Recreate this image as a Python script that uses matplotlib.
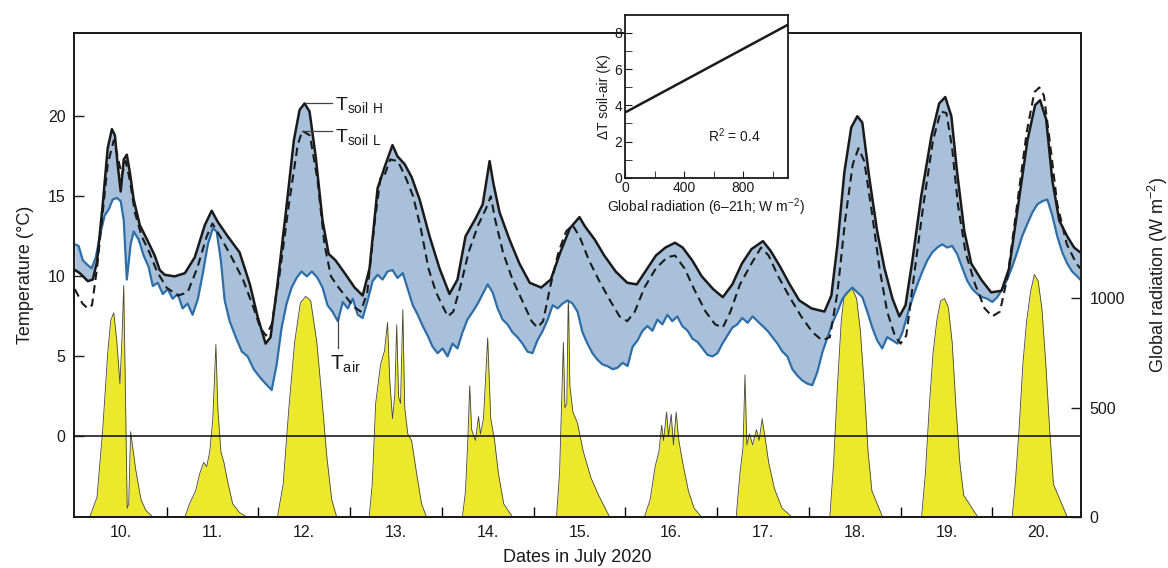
import numpy as np
import matplotlib
matplotlib.use("Agg")
import matplotlib.pyplot as plt
from matplotlib.ticker import FixedLocator, NullFormatter, FixedFormatter

plt.rcParams['font.family'] = ['Liberation Sans', 'DejaVu Sans']
plt.rcParams['mathtext.fontset'] = 'custom'
plt.rcParams['mathtext.rm'] = 'Liberation Sans'

# ---------------- data (hours since 10 July 2020 00:00) ----------------
soilH_t = [0, 1.3, 3.4, 4.7, 5.8, 7.3, 8.6, 9.7, 10.5, 11.2, 12.0, 12.8, 13.6, 14.4, 15.4, 17, 19.1, 20.9, 22.2, 23.5,
           26.1, 28.8, 31.4, 34, 35.8, 37.4, 40, 43.1, 45.8, 47.8,
           49.9, 51.2, 53, 55.2, 57.3, 58.8, 60.1, 61.4, 63, 64.8, 66.4, 68.2, 70.6,
           73.2, 75.3, 77.1, 79.2, 81, 83.1, 84.4, 86.3, 88.1, 90.2, 92.8, 95.4,
           98, 100.1, 102.2, 104.8, 106.7, 108.5, 109.5, 111.1, 113.7, 116.3, 119,
           122, 124.5, 127, 129.5, 132, 133.5, 136, 138.5, 141.5,
           144.5, 147, 149.5, 152, 154.5, 157, 159, 161.5, 164,
           167, 169.5, 172, 174.5, 177, 180, 182, 184.5, 187, 189.5,
           192.7, 196.1, 197.9, 199.5, 201.3, 203.1, 204.7, 206, 207.8, 209.9, 211.8, 213.9,
           215.7, 217.3, 219.1, 221.4, 224.1, 226.1, 227.7, 229.3, 230.8, 232.7, 234.5, 237.1,
           239.7, 242.4, 244.4, 246.5, 249.2, 251.2, 252.5, 254.1, 255.7, 257.5, 259.6, 261.4, 263]
soilH_v = [10.4, 10.2, 9.7, 9.8, 10.9, 14.5, 18, 19.2, 18.8, 17.0, 15.3, 17.3, 17.6, 16.5, 14.8, 13.2, 12.2, 11.3, 10.4, 10.1,
           10.0, 10.2, 11.2, 13.2, 14.1, 13.4, 12.5, 11.5, 9.5, 7.5,
           5.8, 6.2, 9.5, 14, 18.5, 20.4, 20.8, 20.3, 17.5, 13.5, 11.4, 11.0, 10.2,
           9.3, 8.8, 10.5, 15.5, 16.8, 18.2, 17.5, 17.0, 16.2, 14.8, 12.5, 10.5,
           8.9, 9.8, 12.5, 13.6, 14.5, 17.2, 15.8, 14.0, 12.3, 10.8, 9.6,
           9.3, 9.8, 11.5, 13.0, 13.7, 13.1, 12.3, 11.3, 10.3,
           9.6, 9.5, 10.4, 11.3, 11.8, 12.1, 11.8, 11.0, 10.0,
           9.2, 8.7, 9.5, 10.8, 11.7, 12.2, 11.6, 10.6, 9.5, 8.5,
           8.0, 7.8, 8.8, 12, 16.5, 19.3, 20.0, 19.6, 16.2, 12.8, 10.5, 8.6,
           7.5, 8.2, 11, 15, 18.8, 20.8, 21.2, 20.0, 16.5, 12.8, 10.8, 9.8,
           9.0, 9.1, 10.5, 14, 18.5, 20.7, 21.0, 19.8, 16, 13.5, 12.5, 11.8, 11.5]

soilL_t = [0, 2, 3.4, 4.5, 5.8, 7.3, 8.6, 10.2, 11.2, 12.3, 13.3, 14.4, 15.7, 17.5, 19.5, 21.5,
           24, 27, 29.5, 32, 34.5, 36, 38, 41, 44, 46.5, 48.5,
           50, 51.5, 53.5, 56, 58.3, 59.5, 61.5, 63.5, 65.3, 67, 69, 71,
           73, 74.8, 76.5, 78.5, 80, 81, 82.5, 84.5, 86.5, 88.5, 90.5, 92.5, 94.5,
           96.5, 97.6, 99, 101, 103, 105.5, 107.5, 108.8, 110, 112, 114.5, 117, 119.5,
           121, 122.5, 124.5, 126.5, 128.5, 130.2, 132, 134.5, 137, 140, 142.5,
           144.5, 146.5, 149, 152, 155, 157, 159.5, 162, 165, 167.5,
           169.5, 171.5, 174, 177, 179.5, 181.5, 184, 187, 190,
           193, 195.5, 197.5, 199.5, 201.5, 203.5, 205, 206.5, 208.5, 210.5, 212.5, 214.5,
           216, 217.5, 219.5, 222, 224.5, 226.5, 228, 229.5, 231, 233, 235.5, 238,
           240, 242, 244, 246.5, 249, 251, 252.3, 253.5, 255, 257, 259.5, 262, 263]
soilL_v = [9.2, 8.3, 8.0, 8.2, 10.5, 14, 17, 18.5, 17.5, 16.3, 17.2, 16, 14, 12.5, 11.5, 10.3,
           9.3, 8.8, 9.0, 10.5, 12.5, 13.3, 12.5, 11.2, 9.8, 8.2, 6.8,
           6.3, 7.0, 10, 14.5, 18.2, 19.1, 18.8, 16, 12, 10, 9.3, 8.7,
           8.1, 7.8, 9, 13.5, 16.2, 16.3, 17.3, 17.2, 16.2, 15, 13, 10.5, 9,
           8, 7.5, 7.8, 9.5, 11.5, 13.2, 14.2, 15.0, 13.5, 11.5, 9.8, 8.5, 7.2,
           6.8, 7.2, 9.5, 11.5, 12.8, 13.2, 12.5, 11, 9.8, 8.5, 7.5,
           7.2, 7.8, 9.3, 10.5, 11.2, 11.3, 10.5, 9.2, 7.8, 7.0,
           6.8, 7.8, 9.5, 10.8, 11.8, 11.3, 10, 8.7, 7.5,
           6.5, 6.0, 6.2, 9, 13.5, 17, 18.0, 17.2, 14, 10.5, 7.8, 6.3,
           5.8, 6.3, 10, 14.5, 18.5, 20.3, 20.2, 18, 14.5, 11.5, 9.5, 8.0,
           7.5, 7.8, 10, 14.5, 19, 21.5, 21.8, 21.3, 18.5, 14.5, 12, 10.8, 10.5]

air_t = [0, 1, 2.1, 3.4, 4.4, 5.5, 6.8, 7.8, 8.9, 9.9, 11, 12, 12.8, 13.6, 14.6, 15.4, 16.7, 18, 19.3, 20.4, 21.7, 23,
         24.3, 25.6, 26.9, 28.2, 29.5, 30.8, 32.2, 33.5, 34.8, 36.1, 37.1, 38.2, 39.2, 40.5, 42.1, 43.7, 45.2, 46.8,
         48.4, 49.9, 51.5, 52.8, 54.1, 55.4, 56.7, 58, 59.3, 60.7, 62, 63.5, 64.8, 66.1, 67.4, 68.8, 70.1, 71.4,
         72.7, 74, 75.3, 76.6, 77.9, 79.2, 80.5, 81.8, 83.1, 84.4, 85.8, 87.1, 88.4, 89.7, 91, 92.3, 93.6, 94.9,
         96.2, 97.5, 98.8, 100.1, 101.4, 102.7, 104.1, 105.4, 106.7, 108, 109.3, 110.6, 111.9, 113.2, 114.5, 115.8,
         117.1, 118.4, 119.7, 121, 122.4, 123.7, 125, 126.3, 127.6, 128.9, 130.2, 131.5, 132.8, 134.1, 135.4,
         136.7, 138, 139.3, 140.7, 142, 143.3, 144.6, 145.9, 147.2, 148.5, 149.8, 151.1, 152.4, 153.7, 155, 156.3,
         157.6, 158.9, 160.3, 161.6, 162.9, 164.2, 165.5, 166.8, 168.1, 169.4, 170.7, 172, 173.3, 174.6, 176,
         177.3, 178.6, 179.9, 181.2, 182.5, 183.8, 185.1, 186.4, 187.7, 189, 190.3, 191.6, 192.9, 194.2, 195.6,
         196.9, 198.2, 199.5, 200.8, 202.1, 203.4, 204.7, 206, 207.3, 208.6, 209.9, 211.2, 212.5, 213.9, 215.2,
         216.5, 217.8, 219.1, 220.4, 221.7, 223, 224.3, 225.6, 226.9, 228.2, 229.5, 230.8, 232.2, 233.5, 234.8,
         236.1, 237.4, 238.7, 240, 241.3, 242.6, 243.9, 245.2, 246.5, 247.8, 249.2, 250.5, 251.8, 253.1, 254.4,
         255.7, 257, 258.3, 259.6, 260.9, 262.2, 263]
air_v = [12.0, 11.9, 11.0, 10.7, 10.5, 11.2, 12.8, 13.8, 14.2, 14.8, 14.9, 14.7, 13.5, 9.8, 12.0, 12.8, 12.3, 11.3, 10.6, 9.4, 9.6, 8.9,
         9.2, 8.6, 8.9, 8.0, 8.3, 7.6, 8.6, 10.2, 12.0, 13.0, 12.8, 11.0, 8.5, 7.2, 6.2, 5.3, 5.0, 4.2,
         3.7, 3.3, 2.9, 4.5, 6.8, 8.3, 9.3, 9.9, 10.3, 10.0, 10.3, 9.9, 9.3, 8.2, 7.8, 7.2, 8.4, 8.0,
         8.6, 7.6, 7.4, 8.5, 9.7, 10.1, 9.8, 10.3, 10.4, 9.9, 10.2, 9.2, 8.2, 7.6, 6.9, 6.3, 5.6, 5.2,
         5.5, 5.0, 5.8, 5.5, 6.5, 7.3, 7.8, 8.3, 8.9, 9.5, 9.0, 8.0, 7.3, 7.0, 6.5, 6.2,
         5.8, 5.3, 5.2, 6.0, 6.6, 7.3, 8.2, 8.0, 8.3, 8.5, 8.3, 7.8, 6.5, 5.8, 5.2,
         4.8, 4.5, 4.4, 4.2, 4.3, 4.6, 4.4, 5.6, 6.0, 6.6, 6.9, 6.6, 7.3, 7.0, 7.6, 7.2,
         7.5, 6.9, 6.6, 6.1, 5.9, 5.5, 5.1, 5.0, 5.2, 5.8, 6.3, 6.8, 7.0, 7.4, 7.1,
         7.5, 7.2, 6.9, 6.6, 6.2, 5.8, 5.3, 5.0, 4.2, 3.8, 3.5, 3.3, 3.2, 4.0, 5.3,
         6.2, 7.1, 7.8, 8.6, 9.0, 9.3, 9.0, 8.7, 7.8, 6.8, 6.0, 5.5, 6.2, 6.0, 5.8,
         6.5, 7.6, 8.6, 9.5, 10.3, 11.0, 11.5, 11.8, 12.0, 11.8, 11.9, 11.4, 10.5, 9.7, 9.2,
         8.9, 8.7, 8.6, 8.4, 8.7, 9.2, 9.8, 10.6, 11.5, 12.5, 13.3, 14.0, 14.5, 14.7, 14.8,
         13.8, 12.5, 11.5, 10.8, 10.3, 10.0, 9.8]

rad_t = [0, 3.9, 5.8, 7.3, 8.6, 9.4, 10.2, 11, 11.8, 12.3, 12.8, 13.3, 13.7, 14.1, 14.6, 15.9, 17.3, 18.6, 20.4,
         28.8, 30, 31.6, 32.7, 33.7, 34.5, 35.3, 36.1, 36.9, 37.4, 38.2, 39, 40, 41.3, 43.1, 45,
         53, 54.5, 56, 57.5, 59, 60.4, 61.7, 63.3, 64.6, 65.9, 67.2, 68.5,
         77, 77.8, 78.7, 80, 81, 81.8, 82.4, 83.1, 83.7, 84.2, 84.7, 85.2, 85.8, 86.3, 87.1, 88.1, 89.4, 90.7, 92,
         101.4, 102.2, 102.8, 103.3, 103.8, 104.8, 105.6, 106.1, 106.9, 108, 108.8, 109.8, 110.8, 112.2, 114.5,
         126, 126.8, 127.4, 127.8, 128.2, 128.7, 129.1, 129.5, 130.3, 131.5, 133, 135, 137, 139.9,
         149, 150.5, 151.8, 152.8, 153.5, 154, 154.8, 155.3, 156, 156.6, 157.3, 158, 159, 160.5, 162, 164,
         173, 174, 174.8, 175.3, 175.8, 176.5, 177.3, 178.3, 179, 179.8, 180.5, 181.5, 183, 185, 187.6,
         197.5, 198.5, 199.5, 200.5, 201.5, 202.5, 203.5, 204.5, 205.5, 206.5, 207.5, 208.5, 211.3,
         221.5, 222.5, 223.5, 224.5, 225.5, 226.5, 227.5, 228.5, 229.5, 230.5, 231.5, 232.5, 236.2,
         245.2, 246, 247, 248, 249, 250, 251, 252, 253, 254, 255, 256, 259.6, 263]
rad_v = [0, 0, 90, 400, 750, 900, 935, 800, 610, 800, 1060, 500, 40, 60, 390, 220, 80, 30, 0,
         0, 60, 120, 200, 250, 230, 300, 450, 790, 500, 300, 250, 160, 60, 20, 0,
         0, 150, 500, 800, 980, 1010, 990, 800, 550, 280, 80, 0,
         0, 150, 520, 700, 760, 890, 620, 450, 560, 880, 550, 520, 950, 500, 380, 350, 200, 60, 0,
         0, 120, 350, 600, 400, 350, 460, 380, 450, 820, 450, 350, 200, 60, 0,
         0, 200, 550, 800, 500, 520, 1040, 600, 480, 430, 300, 180, 100, 0,
         0, 80, 230, 300, 420, 350, 480, 370, 470, 330, 480, 350, 250, 120, 40, 0,
         0, 200, 320, 650, 330, 380, 330, 400, 350, 450, 370, 250, 130, 40, 0,
         0, 250, 600, 900, 1050, 1060, 1040, 1000, 850, 600, 300, 120, 0,
         0, 200, 500, 750, 900, 990, 1000, 960, 800, 500, 250, 100, 0,
         0, 150, 400, 700, 900, 1030, 1110, 1080, 950, 700, 400, 150, 0, 0]

day_labels = ['10.', '11.', '12.', '13.', '14.', '15.', '16.', '17.', '18.', '19.', '20.']
temp_ticks = [0, 5, 10, 15, 20]
rad_ticks = [0, 500, 1000]

inset_x = [0, 1100]
inset_y = [3.6, 8.45]

# ---------------- figure ----------------
fig = plt.figure(figsize=(11.68, 5.68), dpi=100)
ax = fig.add_axes([0.0634, 0.0898, 0.8621, 0.8521])
ax2 = ax.twinx()
ax.set_zorder(ax2.get_zorder() + 1)
ax.patch.set_visible(False)

ink = '#1a1a1a'
blue = '#2e6ea8'
fillc = '#a8c0d9'
yellow = '#ece92c'

# radiation (right axis)
ax2.fill_between(rad_t, 0, rad_v, color=yellow, lw=0)
ax2.plot(rad_t, rad_v, color='#444444', lw=0.6)
ax2.set_ylim(0, 2215)
ax2.yaxis.set_major_locator(FixedLocator(rad_ticks))
ax2.tick_params(axis='y', direction='in', length=7, width=1, labelsize=11.5, colors=ink, pad=6)
ax2.set_ylabel('Global radiation (W m$^{-2}$)', fontsize=13, color=ink, labelpad=15)

# temperatures
t_grid = np.union1d(soilH_t, air_t)
h_i = np.interp(t_grid, soilH_t, soilH_v)
a_i = np.interp(t_grid, air_t, air_v)
ax.fill_between(t_grid, a_i, h_i, color=fillc, lw=0)
ax.plot(air_t, air_v, color=blue, lw=1.6)
ax.plot(soilL_t, soilL_v, color=ink, lw=1.5, ls=(0, (4, 2.5)))
ax.plot(soilH_t, soilH_v, color=ink, lw=1.8)
ax.axhline(0, color=ink, lw=1.2)

ax.set_xlim(-0.2, 263.2)
ax.set_ylim(-5.03, 25.2)
ax.yaxis.set_major_locator(FixedLocator(temp_ticks))
ax.xaxis.set_major_locator(FixedLocator([24 * i for i in range(1, 11)]))
ax.xaxis.set_major_formatter(NullFormatter())
ax.xaxis.set_minor_locator(FixedLocator([24 * i + 12 for i in range(11)]))
ax.xaxis.set_minor_formatter(FixedFormatter(day_labels))
ax.tick_params(axis='x', which='major', direction='in', length=7, width=1)
ax.tick_params(axis='x', which='minor', length=0, labelsize=11.5, colors=ink, pad=6)
ax.tick_params(axis='y', direction='in', length=7, width=1, labelsize=11.5, colors=ink, pad=6)
ax.set_ylabel('Temperature (°C)', fontsize=13, color=ink, labelpad=10)
ax.set_xlabel('Dates in July 2020', fontsize=13, color=ink, labelpad=6)
for a in (ax, ax2):
    for s in a.spines.values():
        s.set_linewidth(1.3)
        s.set_color(ink)

# curve labels
ax.plot([60.5, 67.4], [20.8, 20.8], color='#444444', lw=0.9)
ax.text(68.0, 20.38, r'$\mathregular{T_{soil\ H}}$', fontsize=14, color=ink, va='baseline', ha='left')
ax.plot([59.5, 67.4], [19.1, 19.1], color='#444444', lw=0.9)
ax.text(68.0, 18.38, r'$\mathregular{T_{soil\ L}}$', fontsize=14, color=ink, va='baseline', ha='left')
ax.plot([68.8, 68.8], [7.4, 5.5], color='#444444', lw=0.9)
ax.text(66.7, 4.16, r'$\mathregular{T_{air}}$', fontsize=15, color=ink, va='baseline', ha='left')

# inset
axi = fig.add_axes([0.535, 0.687, 0.1396, 0.287])
axi.set_zorder(10)
axi.set_facecolor('white')
axi.plot(inset_x, inset_y, color=ink, lw=1.8)
axi.set_xlim(0, 1100)
axi.set_ylim(0, 9)
axi.xaxis.set_major_locator(FixedLocator([0, 400, 800]))
axi.xaxis.set_minor_locator(FixedLocator([200, 600, 1000]))
axi.yaxis.set_major_locator(FixedLocator([0, 2, 4, 6, 8]))
axi.yaxis.set_minor_locator(FixedLocator([1, 3, 5, 7]))
axi.tick_params(which='both', direction='in', labelsize=10, colors=ink, pad=2)
axi.tick_params(which='major', length=5)
axi.tick_params(which='minor', length=5)
axi.set_xlabel('Global radiation (6–21h; W m$^{-2}$)', fontsize=10, color=ink, labelpad=1)
axi.set_ylabel('ΔT soil-air (K)', fontsize=10, color=ink, labelpad=2)
axi.text(0.51, 0.22, 'R$^{2}$ = 0.4', transform=axi.transAxes, fontsize=10, color=ink)
for s in axi.spines.values():
    s.set_linewidth(1.3)
    s.set_color(ink)

fig.savefig('out.png', dpi=100)
